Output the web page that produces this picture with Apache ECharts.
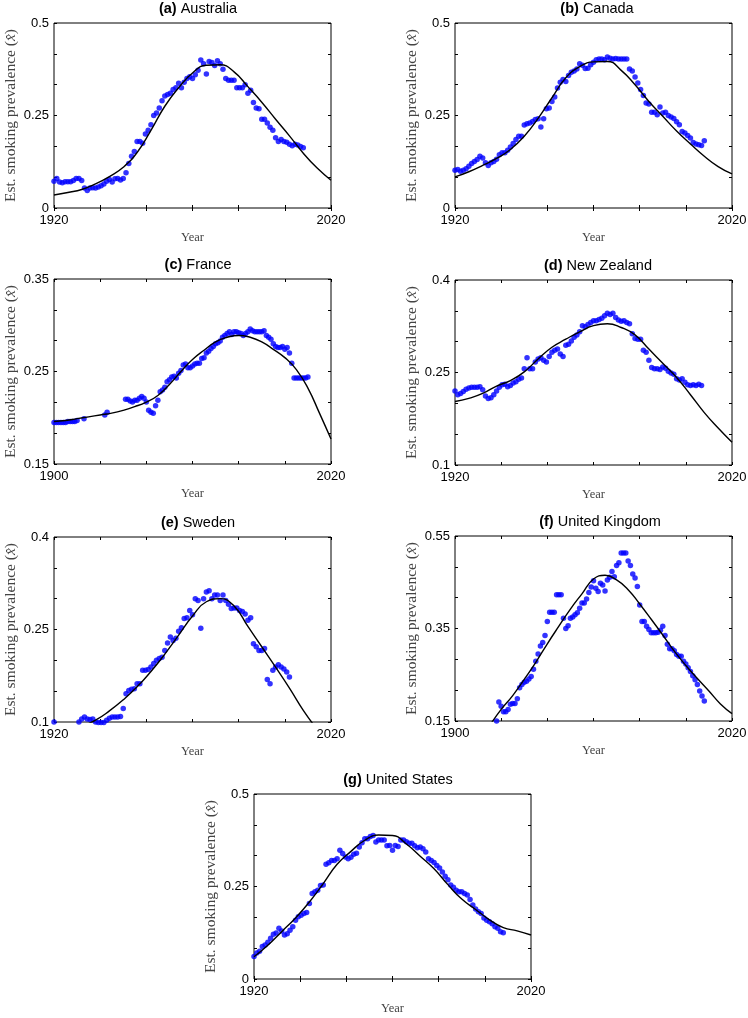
<!DOCTYPE html>
<html>
<head>
<meta charset="utf-8">
<script src="https://cdn.jsdelivr.net/npm/echarts@6/dist/echarts.min.js"></script>
<style>
  html, body { margin: 0; padding: 0; background: #fff; }
  #chart { width: 748px; height: 1018px; }
</style>
</head>
<body>
<div id="chart"></div>
<script>
// estimated prevalence, one dot per year (null = no data that year)
const australiaDots = [0.072, 0.08, 0.07, 0.068, 0.071, 0.071, 0.071, 0.074, 0.08, 0.08,
  0.074, 0.054, 0.047, 0.054, 0.055, 0.054, 0.057, 0.06, 0.065, 0.072,
  0.077, 0.07, 0.079, 0.08, 0.076, 0.08, 0.095, 0.12, 0.14, 0.153,
  0.18, 0.18, 0.175, 0.2, 0.21, 0.225, 0.25, 0.257, 0.27, 0.29,
  0.303, 0.307, 0.31, 0.32, 0.325, 0.337, 0.325, 0.34, 0.35, 0.355,
  0.35, 0.36, 0.372, 0.4, 0.39, 0.362, 0.396, 0.393, 0.385, 0.398,
  0.39, 0.375, 0.35, 0.345, 0.345, 0.345, 0.325, 0.325, 0.325, 0.333,
  0.31, 0.318, 0.285, 0.27, 0.268, 0.24, 0.24, 0.23, 0.218, 0.21,
  0.19, 0.18, 0.185, 0.18, 0.178, 0.172, 0.168, 0.172, 0.17, 0.166,
  0.163];
const canadaDots = [0.102, 0.104, 0.099, 0.102, 0.106, 0.113, 0.12, 0.126, 0.131, 0.14,
  0.135, 0.122, 0.115, 0.122, 0.126, 0.132, 0.144, 0.149, 0.149, 0.156,
  0.165, 0.174, 0.185, 0.194, 0.194, 0.224, 0.228, 0.23, 0.234, 0.239,
  0.241, 0.219, 0.241, 0.268, 0.27, 0.288, 0.3, 0.324, 0.34, 0.347,
  0.342, 0.358, 0.367, 0.37, 0.376, 0.39, 0.386, 0.377, 0.378, 0.387,
  0.394, 0.401, 0.403, 0.403, 0.401, 0.408, 0.405, 0.403, 0.404, 0.403,
  0.403, 0.403, 0.403, 0.376, 0.37, 0.354, 0.338, 0.32, 0.304, 0.284,
  0.281, 0.259, 0.259, 0.252, 0.273, 0.257, 0.259, 0.25, 0.246, 0.242,
  0.233, 0.225, 0.207, 0.203, 0.196, 0.189, 0.177, 0.173, 0.171, 0.169,
  0.182];
const franceDots = [0.195, 0.195, 0.195, 0.195, 0.195, 0.195, 0.196, 0.196, 0.196, 0.196,
  0.197, null, null, 0.199, null, null, null, null, null, null,
  null, null, 0.203, 0.206, null, null, null, null, null, null,
  null, 0.22, 0.22, 0.218, 0.217, 0.219, 0.219, 0.221, 0.223, 0.221,
  0.217, 0.208, 0.206, 0.205, 0.213, 0.219, 0.228, 0.23, 0.233, 0.239,
  0.241, 0.244, 0.245, 0.243, 0.248, 0.251, 0.257, 0.258, 0.254, 0.254,
  0.256, 0.258, 0.259, 0.259, 0.264, 0.265, 0.27, 0.272, 0.275, 0.277,
  0.28, 0.281, 0.283, 0.287, 0.289, 0.291, 0.293, 0.29, 0.293, 0.293,
  0.292, 0.291, 0.289, 0.291, 0.293, 0.296, 0.294, 0.293, 0.293, 0.293,
  0.293, 0.294, 0.289, 0.287, 0.285, 0.28, 0.277, 0.276, 0.276, 0.277,
  0.274, 0.276, 0.27, 0.259, 0.243, 0.243, 0.243, 0.243, 0.243, 0.243,
  0.244];
const newZealandDots = [0.22, 0.214, 0.216, 0.219, 0.223, 0.225, 0.226, 0.226, 0.226, 0.227,
  0.222, 0.212, 0.208, 0.209, 0.214, 0.22, 0.226, 0.23, 0.231, 0.227,
  0.229, 0.233, 0.235, 0.239, 0.241, 0.256, 0.274, 0.256, 0.256, 0.267,
  0.272, 0.274, 0.27, 0.267, 0.276, 0.283, 0.286, 0.288, 0.28, 0.276,
  0.294, 0.296, 0.301, 0.307, 0.311, 0.316, 0.326, 0.324, 0.328, 0.331,
  0.334, 0.334, 0.336, 0.338, 0.342, 0.346, 0.344, 0.346, 0.339, 0.335,
  0.333, 0.334, 0.331, 0.329, 0.313, 0.305, 0.304, 0.304, 0.286, 0.283,
  0.27, 0.258, 0.256, 0.256, 0.255, 0.259, 0.257, 0.252, 0.249, 0.247,
  0.24, 0.238, 0.24, 0.234, 0.23, 0.229, 0.23, 0.229, 0.231, 0.229];
const swedenDots = [0.1, null, null, null, null, null, null, null, null, 0.1,
  0.105, 0.108, 0.105, 0.104, 0.105, 0.1, 0.099, 0.099, 0.099, 0.103,
  0.106, 0.108, 0.108, 0.108, 0.109, 0.122, 0.146, 0.151, 0.153, 0.154,
  0.162, 0.162, 0.184, 0.184, 0.185, 0.189, 0.195, 0.2, 0.203, 0.205,
  0.216, 0.228, 0.238, 0.232, 0.236, 0.247, 0.253, 0.268, 0.269, 0.281,
  0.274, 0.3, 0.297, 0.252, 0.3, 0.311, 0.313, 0.3, 0.306, 0.306,
  0.297, 0.306, 0.297, 0.291, 0.284, 0.285, 0.285, 0.281, 0.279, 0.275,
  0.265, 0.269, 0.227, 0.222, 0.216, 0.216, 0.219, 0.169, 0.162, 0.184,
  0.189, 0.193, 0.189, 0.186, 0.181, 0.173];
const ukDots = [0.15, 0.191, 0.182, 0.17, 0.17, 0.175, 0.186, 0.188, 0.188, 0.198,
  0.222, 0.229, 0.234, 0.236, 0.241, 0.246, 0.262, 0.279, 0.295, 0.312,
  0.32, 0.335, 0.365, 0.385, 0.385, 0.385, 0.423, 0.423, 0.423, 0.372,
  0.35, 0.356, 0.372, 0.375, 0.38, 0.384, 0.394, 0.405, 0.405, 0.414,
  0.428, 0.44, 0.453, 0.437, 0.43, 0.448, 0.444, 0.431, 0.455, 0.461,
  0.473, 0.462, 0.486, 0.492, 0.513, 0.513, 0.513, 0.496, 0.486, 0.468,
  0.459, 0.441, 0.401, 0.365, 0.365, 0.355, 0.348, 0.341, 0.341, 0.341,
  0.342, 0.346, 0.355, 0.335, 0.316, 0.306, 0.306, 0.302, 0.294, 0.29,
  0.29, 0.279, 0.273, 0.265, 0.257, 0.248, 0.239, 0.229, 0.215, 0.204,
  0.193];
const usDots = [0.061, 0.07, 0.075, 0.088, 0.092, 0.099, 0.11, 0.121, 0.124, 0.137,
  0.13, 0.119, 0.122, 0.132, 0.141, 0.159, 0.168, 0.172, 0.177, 0.18,
  0.204, 0.231, 0.236, 0.24, 0.253, 0.254, 0.31, 0.314, 0.32, 0.32,
  0.325, 0.348, 0.339, 0.33, 0.325, 0.329, 0.337, 0.34, 0.357, 0.368,
  0.379, 0.379, 0.385, 0.388, 0.37, 0.376, 0.376, 0.376, 0.36, 0.361,
  0.348, 0.361, 0.358, 0.376, 0.376, 0.371, 0.367, 0.367, 0.36, 0.355,
  0.357, 0.352, 0.343, 0.325, 0.32, 0.315, 0.307, 0.3, 0.289, 0.278,
  0.268, 0.254, 0.248, 0.24, 0.236, 0.236, 0.231, 0.227, 0.215, 0.2,
  0.189, 0.182, 0.177, 0.165, 0.159, 0.155, 0.149, 0.141, 0.137, 0.128,
  0.125];

// model curves, one value every 5 years
const australiaFit = [0.035, 0.042, 0.05, 0.065, 0.085, 0.11, 0.15, 0.21, 0.275, 0.325, 0.365,
  0.386, 0.387, 0.368, 0.328, 0.286, 0.24, 0.195, 0.148, 0.108, 0.075];
const canadaFit = [0.084, 0.098, 0.115, 0.134, 0.158, 0.194, 0.242, 0.298, 0.352, 0.382, 0.395,
  0.396, 0.372, 0.333, 0.288, 0.248, 0.208, 0.173, 0.14, 0.112, 0.092];
const franceFit = [0.196, 0.197, 0.199, 0.201, 0.203, 0.205, 0.208, 0.212, 0.217, 0.224, 0.236,
  0.25, 0.263, 0.273, 0.282, 0.287, 0.289, 0.287, 0.282, 0.274, 0.265, 0.252, 0.232, 0.205, 0.177];
const newZealandFit = [0.203, 0.208, 0.216, 0.228, 0.237, 0.251, 0.272, 0.291, 0.304, 0.316, 0.326,
  0.329, 0.323, 0.311, 0.288, 0.265, 0.242, 0.214, 0.185, 0.16, 0.137];
const swedenFit = [0.093, 0.103, 0.118, 0.136, 0.157, 0.182, 0.21, 0.241, 0.272, 0.295, 0.3,
  0.288, 0.255, 0.222, 0.189, 0.155, 0.119, 0.088];
const ukFit = [0.14, 0.175, 0.205, 0.24, 0.277, 0.317, 0.355, 0.392, 0.425, 0.457, 0.465,
  0.455, 0.434, 0.403, 0.37, 0.336, 0.301, 0.27, 0.242, 0.215, 0.187, 0.166];
const usFit = [0.06, 0.091, 0.128, 0.165, 0.208, 0.258, 0.31, 0.345, 0.375, 0.389, 0.388,
  0.365, 0.332, 0.298, 0.255, 0.216, 0.188, 0.16, 0.139, 0.13, 0.119];

// tick labels
const years1920 = [1920, 2020];
const years1900 = [1900, 2020];
const yLabelsAU = [0, 0.25, 0.5];
const yLabelsCA = [0, 0.25, 0.5];
const yLabelsFR = [0.15, 0.25, 0.35];
const yLabelsNZ = [0.1, 0.25, 0.4];
const yLabelsSE = [0.1, 0.25, 0.4];
const yLabelsUK = [0.15, 0.35, 0.55];
const yLabelsUS = [0, 0.25, 0.5];

const panels = [
  { tag: '(a)', name: 'Australia', left: 54, top: 23, tx: 198, xl: years1920, yl: yLabelsAU,
    dotStart: 1920, dots: australiaDots, fitStart: 1920, fit: australiaFit },
  { tag: '(b)', name: 'Canada', left: 455, top: 23, tx: 597, xl: years1920, yl: yLabelsCA,
    dotStart: 1920, dots: canadaDots, fitStart: 1920, fit: canadaFit },
  { tag: '(c)', name: 'France', left: 54, top: 279, tx: 198, xl: years1900, yl: yLabelsFR,
    dotStart: 1900, dots: franceDots, fitStart: 1900, fit: franceFit },
  { tag: '(d)', name: 'New Zealand', left: 455, top: 280, tx: 598, xl: years1920, yl: yLabelsNZ,
    dotStart: 1920, dots: newZealandDots, fitStart: 1920, fit: newZealandFit },
  { tag: '(e)', name: 'Sweden', left: 54, top: 537, tx: 198, xl: years1920, yl: yLabelsSE,
    dotStart: 1920, dots: swedenDots, fitStart: 1930, fit: swedenFit },
  { tag: '(f)', name: 'United Kingdom', left: 455, top: 536, tx: 600, xl: years1900, yl: yLabelsUK,
    dotStart: 1918, dots: ukDots, fitStart: 1915, fit: ukFit },
  { tag: '(g)', name: 'United States', left: 254, top: 794, tx: 398, xl: years1920, yl: yLabelsUS,
    dotStart: 1920, dots: usDots, fitStart: 1920, fit: usFit }
];

const sans = 'Liberation Sans, Arial, sans-serif';
const serif = 'Liberation Serif, Times New Roman, serif';

// six equal tick steps between first and last label
function sixths(labels) {
  const a = labels[0], b = labels[labels.length - 1];
  const out = [];
  for (let i = 0; i <= 6; i++) out.push(a + (b - a) * i / 6);
  return out;
}

const option = { animation: false, title: [], grid: [], xAxis: [], yAxis: [], series: [] };

panels.forEach((p, i) => {
  const xmin = p.xl[0], xmax = p.xl[p.xl.length - 1];
  const ymin = p.yl[0], ymax = p.yl[p.yl.length - 1];
  const tickStyle = { inside: true, length: 3, lineStyle: { color: '#000', width: 1 } };

  option.title.push({
    text: '{b|' + p.tag + '} ' + p.name,
    left: p.tx, top: p.top - 22, textAlign: 'center', padding: 0,
    textStyle: {
      fontFamily: sans, fontSize: 14.5, fontWeight: 'normal', color: '#000',
      rich: { b: { fontFamily: sans, fontSize: 14.5, fontWeight: 'bold', color: '#000' } }
    }
  });

  option.grid.push({
    left: p.left, top: p.top, width: 277, height: 185,
    show: true, borderColor: '#000', borderWidth: 1, backgroundColor: 'transparent',
    outerBoundsMode: 'none'
  });

  option.xAxis.push({
    type: 'value', gridIndex: i, position: 'bottom', min: xmin, max: xmax,
    name: 'Year', nameLocation: 'middle', nameGap: 23,
    nameTextStyle: { fontFamily: serif, fontSize: 12.5, color: '#444' },
    axisLine: { show: false }, splitLine: { show: false },
    axisTick: Object.assign({ customValues: sixths(p.xl) }, tickStyle),
    axisLabel: { customValues: p.xl, formatter: v => String(v), margin: 6,
      fontFamily: sans, fontSize: 13, color: '#000' }
  });
  option.xAxis.push({
    type: 'value', gridIndex: i, position: 'top', min: xmin, max: xmax,
    axisLine: { show: false }, splitLine: { show: false },
    axisTick: Object.assign({ customValues: sixths(p.xl) }, tickStyle),
    axisLabel: { show: false }
  });

  option.yAxis.push({
    type: 'value', gridIndex: i, position: 'left', min: ymin, max: ymax,
    name: 'Est. smoking prevalence ({i|x̂})', nameLocation: 'middle', nameGap: 35,
    nameTextStyle: { fontFamily: serif, fontSize: 15.5, color: '#444',
      rich: { i: { fontFamily: serif, fontSize: 15.5, fontStyle: 'italic', color: '#444' } } },
    axisLine: { show: false }, splitLine: { show: false },
    axisTick: Object.assign({ customValues: sixths(p.yl) }, tickStyle),
    axisLabel: { customValues: p.yl, formatter: v => String(v), margin: 5,
      fontFamily: sans, fontSize: 13, color: '#000' }
  });
  option.yAxis.push({
    type: 'value', gridIndex: i, position: 'right', min: ymin, max: ymax,
    axisLine: { show: false }, splitLine: { show: false },
    axisTick: Object.assign({ customValues: sixths(p.yl) }, tickStyle),
    axisLabel: { show: false }
  });

  const dotData = [];
  p.dots.forEach((v, k) => { if (v !== null) dotData.push([p.dotStart + k, v]); });
  const fitData = p.fit.map((v, k) => [p.fitStart + 5 * k, v]);

  option.series.push({
    type: 'scatter', xAxisIndex: 2 * i, yAxisIndex: 2 * i,
    data: dotData, symbolSize: 5.5, clip: false,
    itemStyle: { color: '#0000ff' }, z: 2
  });
  option.series.push({
    type: 'line', xAxisIndex: 2 * i, yAxisIndex: 2 * i,
    data: fitData, smooth: true, showSymbol: false, symbol: 'none', clip: true,
    lineStyle: { color: '#000', width: 1.4 }, z: 3
  });
});

const chart = echarts.init(document.getElementById('chart'), null, { renderer: 'canvas' });
chart.setOption(option);
</script>
</body>
</html>
